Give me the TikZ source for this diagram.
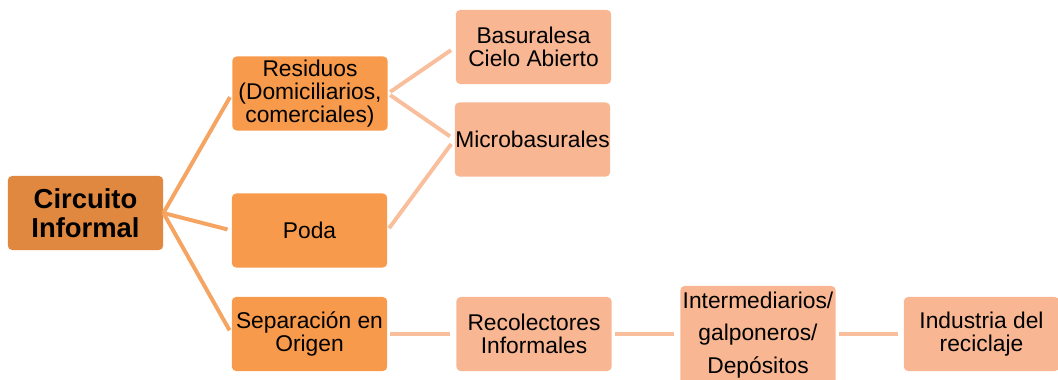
\documentclass[tikz,border=0pt]{standalone}
\usepackage{fontspec}
\setmainfont{Liberation Sans}
\usepackage{tikz}
\usetikzlibrary{positioning}
\usepackage{xcolor}
\definecolor{raiz}{HTML}{E0883F}
\definecolor{rama}{HTML}{F79A4C}
\definecolor{hoja}{HTML}{F8B792}
\definecolor{lineaA}{HTML}{F5A462}
\definecolor{lineaB}{HTML}{F9BF9D}

\tikzset{
  caja/.style={rounded corners=3pt, inner sep=0pt, align=center, minimum width=3.88cm, minimum height=1.85cm,
    font=\fontsize{16.2}{16.4}\selectfont},
  cajaraiz/.style={caja, fill=raiz, font=\fontsize{19.5}{21}\selectfont\bfseries},
  cajarama/.style={caja, fill=rama},
  cajahoja/.style={caja, fill=hoja},
  ligaA/.style={draw=lineaA, line width=2.8pt, shorten >=3pt},
  ligaB/.style={draw=lineaB, line width=2.8pt, shorten <=2pt, shorten >=4pt},
}

\begin{document}
\begin{tikzpicture}[x=0.025cm, y=-0.025cm]
  \useasboundingbox (0,0) rectangle (1058,380);
  \node[cajaraiz] (circuito) at (85.5,213) {Circuito\\Informal};
  \node[cajarama] (residuos) at (310,93.5) {Residuos\\(Domiciliarios,\\comerciales)};
  \node[cajarama] (poda) at (309.5,230.5) {Poda};
  \node[cajarama] (separacion) at (309.5,334) {Separación en\\Origen};
  \node[cajahoja] (basurales) at (533.5,47) {Basuralesa\\Cielo Abierto};
  \node[cajahoja] (micro) at (532.5,139.5) {Microbasurales};
  \node[cajahoja] (recolectores) at (534,334) {Recolectores\\Informales};
  \node[cajahoja, minimum height=2.45cm, font=\fontsize{16.2}{23}\selectfont] (intermed) at (758,335) {Intermediarios/\\galponeros/\\Depósitos};
  \node[cajahoja] (industria) at (981.5,334) {Industria del\\reciclaje};

  % primer nivel
  \draw[ligaA] (circuito.east) -- (residuos.west);
  \draw[ligaA] (circuito.east) -- (poda.west);
  \draw[ligaA] (circuito.east) -- (separacion.west);
  % segundo nivel
  \draw[ligaB] (residuos.east) -- (basurales.west);
  \draw[ligaB] (residuos.east) -- (micro.west);
  \draw[ligaB] (poda.east) -- (micro.west);
  \draw[ligaB] (separacion.east) -- (recolectores.west);
  \draw[ligaB] (recolectores.east) -- (intermed.west |- recolectores.east);
  \draw[ligaB] (intermed.east |- industria.west) -- (industria.west);
\end{tikzpicture}
\end{document}
